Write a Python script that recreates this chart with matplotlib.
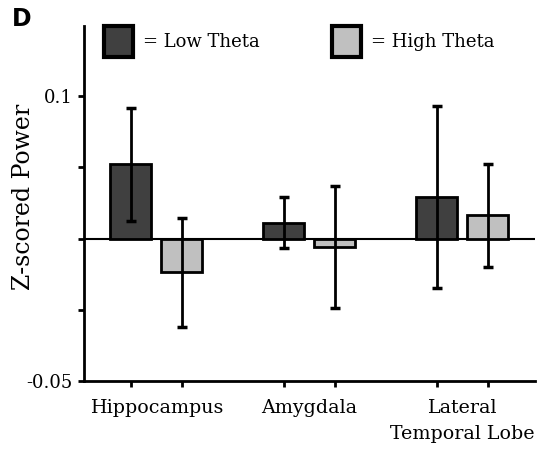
import numpy as np
import matplotlib
matplotlib.use('Agg')
import matplotlib.pyplot as plt
from matplotlib.patches import Patch

# Mean z-scored power per region, with error bars
regions = ['Hippocampus', 'Amygdala', 'Lateral\nTemporal Lobe']
low_theta = [0.026, 0.0056, 0.0145]
low_err = [0.0199, 0.009, 0.032]
high_theta = [-0.0119, -0.003, 0.0081]
high_err = [0.019, 0.0213, 0.018]

ytick_vals = [-0.05, -0.025, 0.0, 0.025, 0.05]
ytick_labels = ['-0.05', '', '', '', '0.1']

dark = '#404040'
light = '#c0c0c0'

plt.rcParams.update({
    'font.family': 'DejaVu Serif',
    'font.size': 14,
})

fig = plt.figure(figsize=(5.43, 4.53), dpi=100)
ax = fig.add_axes([0.1547, 0.159, 0.83, 0.7836])

x = np.arange(len(regions))
offset = 0.1667
width = 0.268

ax.axhline(0, color='black', lw=1.5, zorder=1)

bar_kw = dict(edgecolor='black', linewidth=2.0, zorder=2)
err_kw = dict(ecolor='black', elinewidth=2.0, capsize=3.5, capthick=2.5, zorder=3)
ax.bar(x - offset, low_theta, width, color=dark, yerr=low_err, error_kw=err_kw, **bar_kw)
ax.bar(x + offset, high_theta, width, color=light, yerr=high_err, error_kw=err_kw, **bar_kw)

ax.set_xlim(-0.474, 2.474)
ax.set_ylim(-0.05, 0.0746)

# ticks sit under each bar, labels are centred under each group
ax.set_xticks(np.concatenate([x - offset, x + offset]))
ax.set_xticklabels([])
ax.set_xticks(x, minor=True)
ax.set_xticklabels(regions, minor=True, fontsize=13.7, linespacing=1.6)
ax.tick_params(axis='x', which='minor', length=0, pad=13)
ax.tick_params(axis='x', which='major', length=4, width=2, direction='out')

ax.set_yticks(ytick_vals)
ax.set_yticklabels(ytick_labels, fontsize=13)
ax.tick_params(axis='y', length=4, width=2, direction='out', pad=4)

ax.set_ylabel('Z-scored Power', fontsize=17, va='center')
ax.yaxis.set_label_coords(-0.135, 0.52)

for side in ('top', 'right'):
    ax.spines[side].set_visible(False)
for side in ('left', 'bottom'):
    ax.spines[side].set_linewidth(2.0)

handles = [Patch(facecolor=dark, edgecolor='black', linewidth=3),
           Patch(facecolor=light, edgecolor='black', linewidth=3)]
ax.legend(handles, ['= Low Theta', '= High Theta'], ncol=2, frameon=False,
          loc='upper left', bbox_to_anchor=(0.045, 1.0), fontsize=13,
          handlelength=1.6, handleheight=2.3, handletextpad=0.55,
          columnspacing=4.0, borderaxespad=0.0, borderpad=0.0)

fig.text(0.022, 0.985, 'D', fontsize=17, fontweight='bold',
         family='DejaVu Sans', va='top', ha='left')

fig.savefig('out.png', dpi=100)
